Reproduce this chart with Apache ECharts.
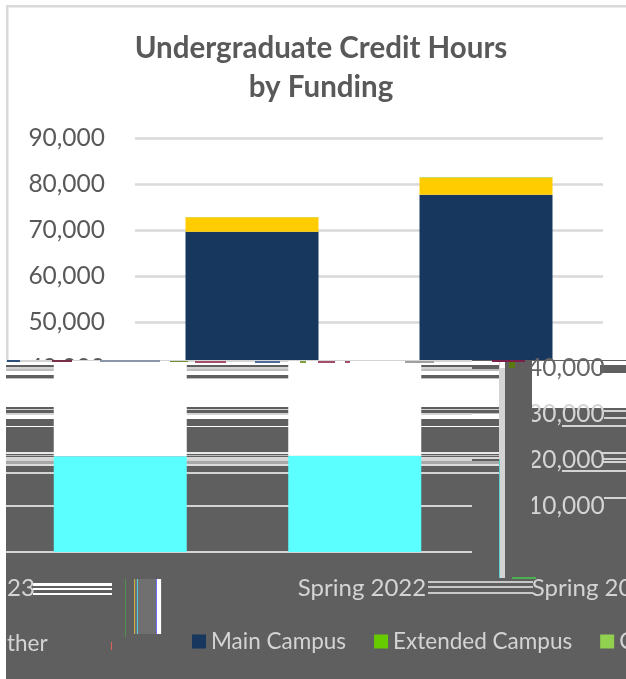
<!DOCTYPE html>
<html>
<head>
<meta charset="utf-8">
<style>html,body{margin:0;padding:0;background:#fff;overflow:hidden}#c{width:626px;height:679px}</style>
<script src="https://cdn.jsdelivr.net/npm/echarts@6/dist/echarts.min.js"></script>
</head>
<body>
<div id="c"></div>
<script>
// ---- chart values ----
const categories = ['Spring 2022', 'Spring 2023'];
const mainCampus = [69600, 77650];
const extendedCampus = [3150, 3780];
const other = [100, 100];
const yTickMax = 90000;
const yTickStep = 10000;
// values of the damaged lower part of the picture (cyan fill, then white fill above it)
const damagedCyan = [20800, 20900];
const damagedWhite = [20700, 20600];
const damagedTop = 41500;

// ---- picture damage below the y=360 tear (not chart marks) ----
const GRAY = '#5f5f5f', LIGHT = '#d4d4d4';
const damageBands = [
  [361, 46, '#ffffff'], [365, 4, GRAY], [369, 2, '#bdbdbd'], [375, 3, GRAY], [378, 1, '#bdbdbd'],
  [407, 2, GRAY], [409, 1, '#d0d0d0'], [410, 3, GRAY], [413, 1, '#c0c0c0'], [414, 5, '#ffffff'],
  [419, 7, GRAY], [426, 1, '#ffffff'], [452, 2, '#e8e8e8'], [455, 1, '#bdbdbd'], [457, 2, '#d8d8d8'],
  [461, 3, '#a8a8a8'], [464, 2, '#dddddd'], [472, 2, LIGHT]
];
// drawn beneath the axis labels
const damageUnder = [
  [532, 361, 94, 47, '#ffffff'], [600, 365, 26, 8, GRAY], [604, 410, 22, 2, LIGHT], [604, 417, 22, 2, LIGHT],
  [562, 425, 64, 2, LIGHT], [602, 452, 24, 2, LIGHT], [602, 458, 24, 2, LIGHT], [602, 461, 24, 2, LIGHT],
  [562, 470, 64, 2, LIGHT], [604, 497, 22, 2, LIGHT],
  [33, 583, 79, 3, '#ffffff'], [33, 588, 79, 2, '#ffffff'], [33, 593, 79, 2, '#ffffff'],
  [428, 581, 105, 2, '#c8c8c8'], [428, 586, 105, 2, '#c8c8c8'], [428, 592, 105, 2, '#c8c8c8']
];
// drawn above everything in the lower part
const damageOver = [
  [499, 361, 6, 217, '#d4d4d4'], [499, 459, 1, 119, '#5fd0d0'], [505, 459, 1, 119, '#e06060'],
  [505, 368, 27, 211, GRAY], [500, 361, 5, 7, '#ffffff'], [509, 361, 6, 7, '#5a7a10'],
  [7, 360, 13, 2, '#2d4f7a'], [52, 360, 20, 2, '#7a2f48'], [100, 360, 60, 2, '#8a97a8'], [170, 361, 18, 1, '#6f8f30'],
  [195, 361, 31, 2, '#a34f6a'], [255, 361, 25, 2, '#4a6aa0'], [300, 361, 6, 2, '#7fa040'], [318, 361, 17, 2, '#a34f6a'],
  [345, 361, 5, 2, '#a34f6a'], [405, 361, 29, 2, '#a0a0a0'], [492, 360, 33, 2, '#7a1f48'],
  [512, 577, 24, 2, '#4caf50'],
  [125, 579, 1, 58, '#4f8f4f'], [134, 579, 28, 55, '#707070'], [134, 579, 1, 55, '#d0b040'], [137, 579, 1, 55, '#50d0e0'],
  [156, 579, 1, 55, '#7070ff'], [157, 579, 4, 55, '#ffffff'], [111, 642, 1, 8, '#e06060']
];
const damageTexts = [
  ['23', 7, 588, 24, LIGHT],
  ['ther', 7, 644, 22.5, LIGHT]
];

// ---- graphic elements ----
const elements = [
  { type: 'rect', shape: { x: 0, y: 360, width: 626, height: 319 }, style: { fill: GRAY }, z: 10 }
];
const addRect = (r, z) => elements.push({ type: 'rect', shape: { x: r[0], y: r[1], width: r[2], height: r[3] }, style: { fill: r[4] }, z });
damageBands.forEach(b => addRect([6, b[0], 494, b[1], b[2]], 10));
damageUnder.forEach(r => addRect(r, 10));
damageOver.forEach(r => addRect(r, 20));
damageTexts.forEach(t => elements.push({ type: 'text', x: t[1], y: t[2], z: 25,
  style: { text: t[0], fill: t[4], font: t[3] + 'px Lato', verticalAlign: 'middle' } }));
addRect([0, 360, 6, 319, '#ffffff'], 40);
addRect([6, 5, 620, 2.5, '#d9d9d9'], 1);
addRect([6, 5, 2.5, 355, '#d9d9d9'], 1);

const fmt = v => Number(v).toLocaleString('en-US');

const chart = echarts.init(document.getElementById('c'), null, { renderer: 'canvas' });
chart.setOption({
  animation: false,
  backgroundColor: '#ffffff',
  title: {
    text: 'Undergraduate Credit Hours\nby Funding',
    left: 316, top: 24, textAlign: 'center', z: 6,
    textStyle: { fontFamily: 'Lato', fontWeight: 'bold', fontSize: 29.5, lineHeight: 39, color: '#595959' }
  },
  legend: {
    left: 187, top: 625, width: 1200, z: 30,
    orient: 'horizontal', selectedMode: false,
    icon: 'rect', itemWidth: 14, itemHeight: 14, itemGap: 28,
    textStyle: { fontFamily: 'Lato', fontSize: 22.5, color: LIGHT },
    data: [
      { name: 'Main Campus', itemStyle: { color: '#17375e' } },
      { name: 'Extended Campus', itemStyle: { color: '#66cc00' } },
      { name: 'Other', itemStyle: { color: '#92d050' } }
    ]
  },
  graphic: { elements },
  grid: [
    { left: 135, width: 468, top: 138, height: 414, outerBoundsMode: 'none' },
    { left: 3, width: 469, top: 361, height: 191, outerBoundsMode: 'none' },
    { left: 245, width: 468, top: 361, height: 191, outerBoundsMode: 'none' }
  ],
  xAxis: [
    { gridIndex: 0, type: 'category', data: categories, axisLine: { show: false }, axisTick: { show: false }, axisLabel: { show: false } },
    { gridIndex: 1, type: 'category', data: categories, axisLine: { show: false }, axisTick: { show: false }, axisLabel: { show: false }, z: 11 },
    { gridIndex: 2, type: 'category', data: categories, axisLine: { show: false }, axisTick: { show: false }, z: 11,
      axisLabel: { margin: 24, fontFamily: 'Lato', fontSize: 24, color: LIGHT, interval: 0, hideOverlap: false } }
  ],
  yAxis: [
    { gridIndex: 0, type: 'value', min: 0, max: yTickMax, interval: yTickStep,
      axisLine: { show: false }, axisTick: { show: false },
      splitLine: { lineStyle: { color: '#d9d9d9', width: 2.5 } },
      axisLabel: { margin: 30, fontFamily: 'Lato', fontSize: 24.5, color: '#595959', formatter: fmt } },
    { gridIndex: 1, type: 'value', position: 'right', min: 0, max: damagedTop, interval: yTickStep, z: 11,
      axisLine: { show: false }, axisTick: { show: false },
      splitLine: { lineStyle: { color: LIGHT, width: 2 } },
      axisLabel: { margin: 56, fontFamily: 'Lato', fontSize: 24.5,
        formatter: v => (v % yTickStep === 0 && v > 0) ? fmt(v) : '',
        color: v => (v >= 40000 ? '#666666' : LIGHT) } },
    { gridIndex: 2, type: 'value', show: false }
  ],
  series: [
    { name: 'Main Campus', type: 'bar', xAxisIndex: 0, yAxisIndex: 0, stack: 'top', barWidth: 133, z: 2, data: mainCampus, itemStyle: { color: '#17375e' } },
    { name: 'Extended Campus', type: 'bar', xAxisIndex: 0, yAxisIndex: 0, stack: 'top', barWidth: 133, z: 2, data: extendedCampus, itemStyle: { color: '#ffcc00' } },
    { name: 'Other', type: 'bar', xAxisIndex: 0, yAxisIndex: 0, stack: 'top', barWidth: 133, z: 2, data: other, itemStyle: { color: '#92d050' } },
    { name: 'damaged cyan', type: 'bar', xAxisIndex: 1, yAxisIndex: 1, stack: 'low', barWidth: 133, z: 12, data: damagedCyan, itemStyle: { color: '#5cffff' } },
    { name: 'damaged white', type: 'bar', xAxisIndex: 1, yAxisIndex: 1, stack: 'low', barWidth: 133, z: 12, data: damagedWhite, itemStyle: { color: '#ffffff' } }
  ]
});
</script>
</body>
</html>
